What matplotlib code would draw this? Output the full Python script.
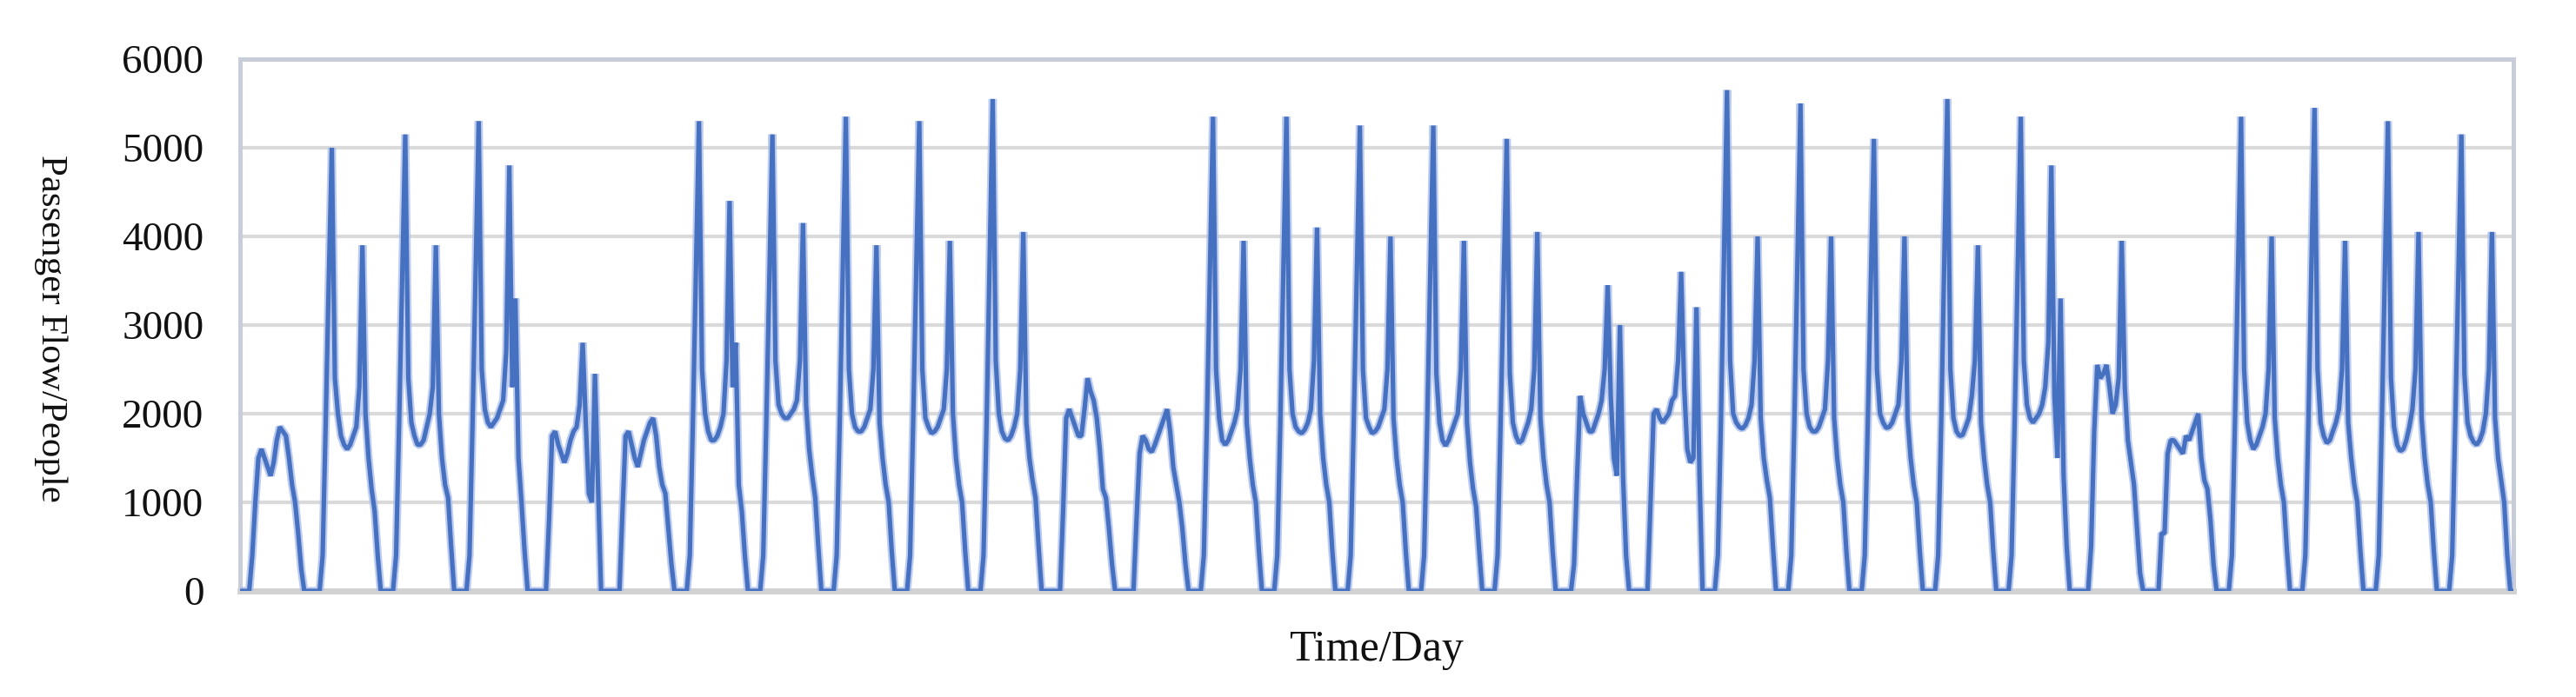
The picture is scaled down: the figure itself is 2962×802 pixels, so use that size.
import numpy as np
import matplotlib
matplotlib.use("Agg")
import matplotlib.pyplot as plt

# Hourly passenger flow, one list of 24 values per day (31 days)
d00 = [0,0,0,0,400,1000,1500,1600,1500,1400,1300,1450,1700,1850,1800,1750,1500,1200,1000,650,250,0,0,0]
d01 = [0,0,0,400,1900,3500,5000,2400,2000,1750,1650,1600,1650,1750,1850,2300,3900,2000,1500,1150,900,400,0,0]
d02 = [0,0,0,400,1900,3500,5150,2400,1900,1750,1650,1650,1700,1850,2000,2300,3900,2000,1500,1200,1050,500,0,0]
d03 = [0,0,0,400,1900,3600,5300,2500,2050,1900,1850,1900,1950,2050,2150,2700,4800,2300,3300,1500,1000,450,0,0]
d04 = [0,0,0,0,0,800,1750,1800,1650,1550,1450,1550,1700,1800,1850,2100,2800,1900,1100,1000,2450,1200,0,0]
d05 = [0,0,0,0,0,900,1750,1800,1650,1500,1400,1550,1700,1800,1900,1950,1750,1400,1200,1100,700,300,0,0]
d06 = [0,0,0,400,1900,3600,5300,2500,2000,1800,1700,1700,1750,1850,2000,2600,4400,2300,2800,1200,900,400,0,0]
d07 = [0,0,0,400,1900,3500,5150,2600,2100,2000,1950,1950,2000,2050,2150,2600,4150,2100,1600,1300,1050,500,0,0]
d08 = [0,0,0,400,1900,3600,5350,2500,2000,1850,1800,1800,1850,1950,2050,2500,3900,1900,1500,1200,1000,450,0,0]
d09 = [0,0,0,400,1900,3600,5300,2500,1950,1850,1780,1800,1850,1950,2050,2500,3950,2000,1500,1200,1000,450,0,0]
d10 = [0,0,0,400,1900,3700,5550,2600,2000,1800,1720,1700,1750,1850,2000,2500,4050,1900,1500,1250,1050,500,0,0]
d11 = [0,0,0,0,0,900,1950,2050,1950,1850,1750,1750,2050,2400,2250,2150,1950,1600,1150,1050,700,300,0,0]
d12 = [0,0,0,0,0,800,1550,1750,1700,1600,1570,1650,1750,1850,1950,2050,1800,1400,1200,1000,700,300,0,0]
d13 = [0,0,0,400,1900,3600,5350,2500,1950,1700,1650,1700,1800,1900,2050,2500,3950,1900,1500,1200,1000,450,0,0]
d14 = [0,0,0,400,1900,3600,5350,2500,2000,1850,1800,1780,1820,1900,2050,2600,4100,2000,1500,1200,1000,450,0,0]
d15 = [0,0,0,400,1900,3550,5250,2500,1950,1850,1780,1800,1850,1950,2050,2500,4000,1950,1500,1200,1000,450,0,0]
d16 = [0,0,0,400,1900,3550,5250,2450,1900,1700,1640,1700,1800,1900,2000,2500,3950,1900,1450,1150,950,450,0,0]
d17 = [0,0,0,400,1900,3500,5100,2450,1900,1750,1670,1700,1800,1900,2050,2500,4050,1950,1500,1200,1000,450,0,0]
d18 = [0,0,0,0,300,1300,2200,2000,1900,1800,1800,1900,2000,2150,2500,3450,2200,1500,1300,3000,1300,400,0,0]
d19 = [0,0,0,0,0,1000,2000,2050,1950,1900,1950,2000,2150,2200,2600,3600,2300,1600,1450,1500,3200,1300,0,0]
d20 = [0,0,0,400,1900,3800,5650,2600,2000,1900,1850,1830,1870,1950,2100,2600,4000,1950,1500,1250,1050,500,0,0]
d21 = [0,0,0,400,1900,3700,5500,2500,2000,1850,1800,1800,1850,1950,2050,2600,4000,1950,1500,1200,1000,450,0,0]
d22 = [0,0,0,400,1900,3500,5100,2500,2000,1900,1840,1850,1900,2000,2100,2600,4000,1950,1500,1200,1000,450,0,0]
d23 = [0,0,0,400,1900,3700,5550,2500,1950,1800,1750,1760,1850,1950,2200,2600,3900,1900,1500,1200,1000,450,0,0]
d24 = [0,0,0,400,1900,3600,5350,2600,2100,1950,1900,1950,2000,2100,2300,2800,4800,2200,1500,3300,1300,500,0,0]
d25 = [0,0,0,0,0,500,1800,2550,2400,2450,2550,2300,2000,2100,2400,3950,2300,1700,1450,1200,700,200,0,0]
d26 = [0,0,0,0,650,650,1550,1700,1700,1650,1600,1550,1750,1700,1800,1900,2000,1500,1250,1150,800,300,0,0]
d27 = [0,0,0,400,1900,3600,5350,2500,1900,1700,1600,1650,1750,1850,2000,2500,4000,1950,1500,1200,1000,450,0,0]
d28 = [0,0,0,400,1900,3700,5450,2500,1900,1750,1670,1700,1800,1900,2050,2500,3950,1900,1500,1200,1000,450,0,0]
d29 = [0,0,0,400,1900,3600,5300,2400,1850,1650,1580,1600,1700,1850,2050,2500,4050,1950,1500,1200,1000,450,0,0]
d30 = [0,0,0,400,1900,3500,5150,2450,1900,1750,1680,1650,1700,1800,2000,2500,4050,1950,1500,1250,1000,400,0,0]

days = [d00, d01, d02, d03, d04, d05, d06, d07, d08, d09, d10, d11, d12, d13, d14, d15,
        d16, d17, d18, d19, d20, d21, d22, d23, d24, d25, d26, d27, d28, d29, d30]

y_ticks = [0, 1000, 2000, 3000, 4000, 5000, 6000]
y_label = "Passenger Flow/People"
x_label = "Time/Day"

flow = np.concatenate([np.array(d, dtype=float) for d in days])
x = np.arange(len(flow))

serif = ["Liberation Serif", "DejaVu Serif"]

W, H = 2962, 802
fig = plt.figure(figsize=(W / 100, H / 100), dpi=100)
L, R, T, B = 276, 2890, 68, 680
ax = fig.add_axes([L / W, 1 - B / H, (R - L) / W, (B - T) / H])

ax.plot(x, flow, color="#a9bdea", lw=6.8, alpha=0.75, solid_joinstyle="bevel", zorder=3)
ax.plot(x, flow, color="#4670c0", lw=3.7, solid_joinstyle="bevel", zorder=4)

ax.set_xlim(0, len(flow) - 1)
ax.set_ylim(0, 6000)
ax.set_yticks(y_ticks)
ax.set_xticks([])
ax.grid(axis="y", color="#dadada", lw=3.0)
ax.set_axisbelow(True)

ax.tick_params(axis="y", length=0, pad=30, labelsize=34)
for lab in ax.get_yticklabels():
    lab.set_family(serif)
    lab.set_color("#111111")

for side in ["top", "left", "right"]:
    ax.spines[side].set_color("#c9cdd9")
    ax.spines[side].set_linewidth(3.6)
ax.spines["bottom"].set_color("#d2d2d2")
ax.spines["bottom"].set_linewidth(5.0)

fig.text(58 / W, 1 - 378 / H, y_label, rotation=270, ha="center", va="center",
         fontsize=31, family=serif, color="#111111")
fig.text(1583 / W, 1 - 748 / H, x_label, ha="center", va="center",
         fontsize=36, family=serif, color="#111111")

fig.savefig("out.png", dpi=100, facecolor="white")
